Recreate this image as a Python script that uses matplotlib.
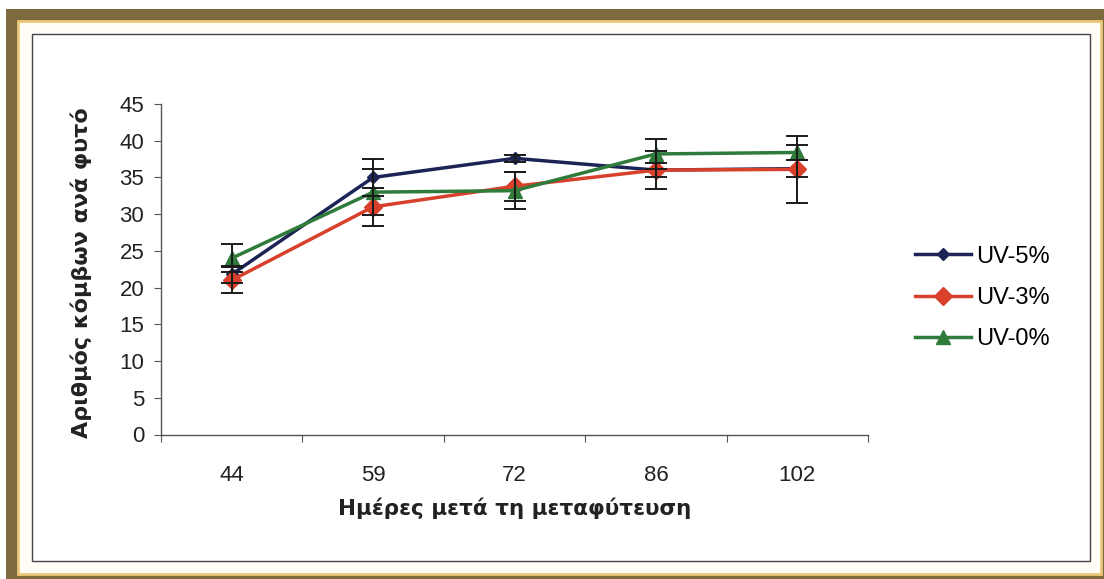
"""Nodes per plant after transplanting, UV treatments."""

import matplotlib

matplotlib.use("Agg")

import matplotlib.pyplot as plt  # noqa: E402
from matplotlib.patches import Rectangle  # noqa: E402

days = ["44", "59", "72", "86", "102"]
series_names = ["UV-5%", "UV-3%", "UV-0%"]
uv5 = [21.8, 35.0, 37.6, 36.0, 36.2]
uv5_err = [1.2, 2.5, 0.5, 1.0, 1.2]
uv3 = [21.0, 31.0, 33.8, 36.0, 36.1]
uv3_err = [1.8, 2.6, 2.0, 2.6, 4.6]
uv0 = [24.0, 33.0, 33.2, 38.2, 38.4]
uv0_err = [1.9, 3.1, 2.5, 2.1, 1.0]
y_ticks = [0, 5, 10, 15, 20, 25, 30, 35, 40, 45]

W, H = 1104, 579
fig = plt.figure(figsize=(W / 100, H / 100), dpi=100)


# picture frame around the chart, given in pixel coordinates
def px_rect(x0, y0, x1, y1, **kw):
    return Rectangle((x0 / W, 1 - y1 / H), (x1 - x0) / W, (y1 - y0) / H,
                     transform=fig.transFigure, **kw)


fig.patches.append(px_rect(6, 9, 1110, 585, facecolor="#7d6a3e", edgecolor="none", zorder=0))
fig.patches.append(px_rect(18, 21, 1101, 574, facecolor="#fffdf6", edgecolor="#ecc97a",
                           linewidth=2.0, zorder=1))
fig.patches.append(px_rect(32, 34, 1090, 561, facecolor="white", edgecolor="#444444",
                           linewidth=1.0, zorder=2))

ax = fig.add_axes([161 / W, 1 - 434.5 / H, (868 - 161) / W, (434.5 - 104) / H])
ax.set_zorder(5)
ax.patch.set_alpha(0)

x = list(range(len(days)))
styles = [
    (uv5, uv5_err, "#1c2456", "D", 6),
    (uv3, uv3_err, "#d8402c", "D", 9),
    (uv0, uv0_err, "#2f7b3c", "^", 10),
]
for name, (vals, errs, color, marker, ms) in zip(series_names, styles):
    ax.plot(x, vals, color=color, marker=marker, markersize=ms, linewidth=2.5,
            label=name, zorder=3)
for vals, errs, color, marker, ms in styles:
    ax.errorbar(x, vals, yerr=errs, fmt="none", ecolor="#1a1a1a", elinewidth=1.4,
                capsize=8, capthick=1.4, zorder=4)

ax.set_xlim(-0.5, len(days) - 0.5)
ax.set_ylim(0, 45)
ax.set_yticks(y_ticks)
ax.set_xticks([i - 0.5 for i in range(len(days) + 1)])
ax.set_xticklabels([])
ax.set_xticks(x, minor=True)
ax.set_xticklabels(days, minor=True)
ax.tick_params(axis="x", which="major", direction="out", length=5, color="#555555")
ax.tick_params(axis="x", which="minor", length=0, pad=22, labelsize=16, labelcolor="#222222")
ax.tick_params(axis="y", direction="out", length=5, color="#555555", pad=7,
               labelsize=16, labelcolor="#222222")
for label in ax.get_xticklabels(minor=True) + ax.get_yticklabels():
    label.set_fontfamily("Liberation Sans")

for side in ("top", "right"):
    ax.spines[side].set_visible(False)
for side in ("left", "bottom"):
    ax.spines[side].set_color("#555555")
    ax.spines[side].set_linewidth(1.0)

ax.set_xlabel("Ημέρες μετά τη μεταφύτευση", fontsize=15.5, fontweight="bold", color="#222222")
ax.xaxis.set_label_coords(0.5, -0.19)
ax.set_ylabel("Αριθμός κόμβων ανά φυτό", fontsize=16, fontweight="bold", color="#222222")
ax.yaxis.set_label_coords(-0.098, 0.49)

ax.legend(loc="center left", bbox_to_anchor=(903 / W, 1 - 298 / H),
          bbox_transform=fig.transFigure, frameon=False, handlelength=2.4,
          handletextpad=0.2, labelspacing=0.82, borderpad=0,
          prop={"family": "Liberation Sans", "size": 17})

fig.savefig("out.png", dpi=100)
plt.close(fig)
